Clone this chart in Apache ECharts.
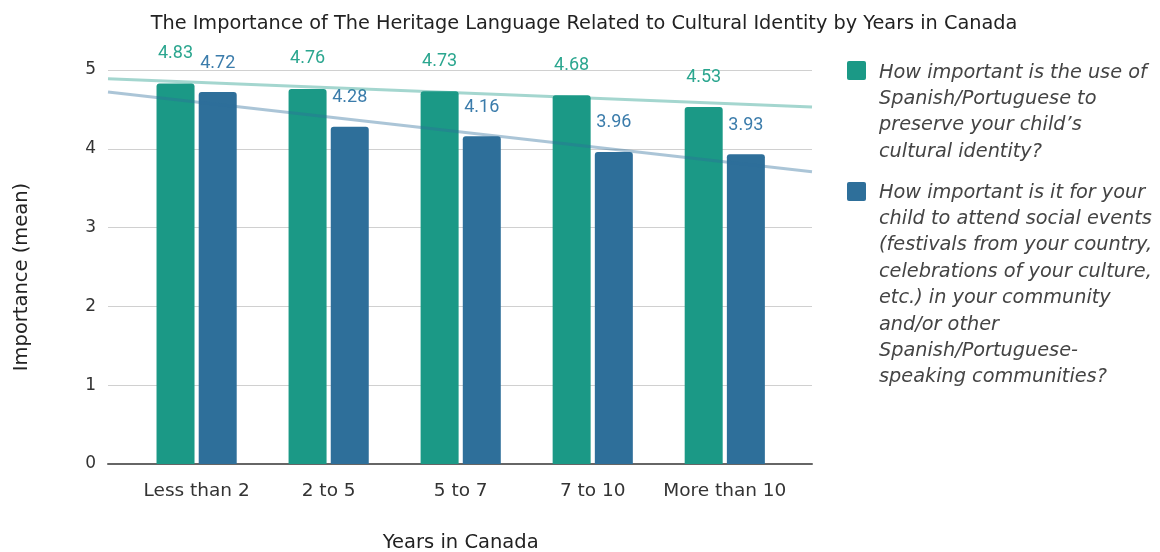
<!DOCTYPE html>
<html>
<head>
<meta charset="utf-8">
<script src="https://cdn.jsdelivr.net/npm/echarts@6/dist/echarts.min.js"></script>
<style>
  html, body { margin: 0; padding: 0; background: #fff; }
  #chart { width: 1160px; height: 552px; }
</style>
</head>
<body>
<div id="chart"></div>
<script>
// Years-in-Canada groups and mean importance scores
const categories = ['Less than 2', '2 to 5', '5 to 7', '7 to 10', 'More than 10'];
const languageValues = [4.83, 4.76, 4.73, 4.68, 4.53];
const eventsValues = [4.72, 4.28, 4.16, 3.96, 3.93];

// Linear trendline end values (left edge, right edge of the plot)
const languageTrend = [4.89, 4.53];
const eventsTrend = [4.72, 3.71];

const yTicks = [0, 1, 2, 3, 4, 5];

const languageName = 'How important is the use of Spanish/Portuguese to preserve your child\u2019s cultural identity?';
const eventsName = 'How important is it for your child to attend social events (festivals from your country, celebrations of your culture, etc.) in your community and/or other Spanish/Portuguese-speaking communities?';
const languageLines = ['How important is the use of', 'Spanish/Portuguese to', 'preserve your child\u2019s', 'cultural identity?'];
const eventsLines = ['How important is it for your', 'child to attend social events', '(festivals from your country,', 'celebrations of your culture,', 'etc.) in your community', 'and/or other', 'Spanish/Portuguese-', 'speaking communities?'];

const green = '#1b9986';
const blue = '#2e6f9a';
const greenLabel = '#2ba68f';
const blueLabel = '#3b7cab';

const font = "'DejaVu Sans', Verdana, sans-serif";
const chart = echarts.init(document.getElementById('chart'), null, { renderer: 'canvas' });

const lineH = 26.4;
const option = {
  animation: false,
  backgroundColor: '#ffffff',
  title: {
    text: 'The Importance of The Heritage Language Related to Cultural Identity by Years in Canada',
    left: 579, top: 9, textAlign: 'center',
    textStyle: { fontFamily: font, fontSize: 19.3, fontWeight: 'normal', color: '#222' }
  },
  grid: [
    // full plot frame: gridlines, y axis, trendlines
    { left: 108, right: 348, top: 70, bottom: 88, outerBoundsMode: 'none' },
    // bar area: category bands
    { left: 130.6, right: 369.2, top: 70, bottom: 88, outerBoundsMode: 'none' }
  ],
  xAxis: [
    {
      type: 'value', gridIndex: 0, min: 0, max: 1,
      axisLine: { show: true, onZero: false, lineStyle: { color: '#666', width: 2 } },
      axisTick: { show: false }, axisLabel: { show: false }, splitLine: { show: false }
    },
    {
      type: 'category', gridIndex: 1, data: categories,
      axisLine: { show: false }, axisTick: { show: false },
      axisLabel: { interval: 0, fontFamily: font, fontSize: 18.5, color: '#333', margin: 18 },
      name: 'Years in Canada', nameLocation: 'middle', nameGap: 69,
      nameTextStyle: { fontFamily: font, fontSize: 19.5, color: '#222' }
    }
  ],
  yAxis: [
    {
      type: 'value', gridIndex: 0, min: yTicks[0], max: yTicks[yTicks.length - 1], interval: 1,
      axisLine: { show: false }, axisTick: { show: false },
      axisLabel: { fontFamily: font, fontSize: 17, color: '#333', margin: 12 },
      splitLine: { lineStyle: { color: '#d0d0d0', width: 1 } },
      name: 'Importance (mean)', nameLocation: 'middle', nameGap: 76,
      nameTextStyle: { fontFamily: font, fontSize: 19.5, color: '#222', padding: [0, 20, 0, 0] }
    },
    {
      type: 'value', gridIndex: 1, min: yTicks[0], max: yTicks[yTicks.length - 1], interval: 1,
      show: false
    }
  ],
  series: [
    {
      name: languageName, type: 'bar', xAxisIndex: 1, yAxisIndex: 1,
      data: languageValues, barWidth: 38, barGap: '11%',
      itemStyle: { color: green, borderRadius: [3, 3, 0, 0] },
      label: { show: true, position: 'top', distance: 21, fontFamily: 'Roboto, sans-serif', fontSize: 18, color: greenLabel }
    },
    {
      name: eventsName, type: 'bar', xAxisIndex: 1, yAxisIndex: 1,
      data: eventsValues, barWidth: 38, barGap: '11%',
      itemStyle: { color: blue, borderRadius: [3, 3, 0, 0] },
      label: { show: true, position: 'top', distance: 20, fontFamily: 'Roboto, sans-serif', fontSize: 18, color: blueLabel }
    },
    {
      type: 'line', xAxisIndex: 0, yAxisIndex: 0, silent: true, symbol: 'none', z: 5,
      data: [[0, languageTrend[0]], [1, languageTrend[1]]],
      lineStyle: { color: green, width: 3, opacity: 0.4 }
    },
    {
      type: 'line', xAxisIndex: 0, yAxisIndex: 0, silent: true, symbol: 'none', z: 5,
      data: [[0, eventsTrend[0]], [1, eventsTrend[1]]],
      lineStyle: { color: blue, width: 3, opacity: 0.4 }
    }
  ],
  graphic: [
    { type: 'rect', left: 847, top: 61, shape: { width: 19, height: 19, r: 2 }, style: { fill: green } },
    {
      type: 'text', left: 879, top: 72.5 - lineH / 2,
      style: { text: languageLines.join('\n'), fontFamily: font, fontStyle: 'italic', fontSize: 19.3, lineHeight: lineH, fill: '#444' }
    },
    { type: 'rect', left: 847, top: 182, shape: { width: 19, height: 19, r: 2 }, style: { fill: blue } },
    {
      type: 'text', left: 879, top: 192.5 - lineH / 2,
      style: { text: eventsLines.join('\n'), fontFamily: font, fontStyle: 'italic', fontSize: 19.3, lineHeight: lineH, fill: '#444' }
    }
  ]
};
chart.setOption(option);
</script>
</body>
</html>
